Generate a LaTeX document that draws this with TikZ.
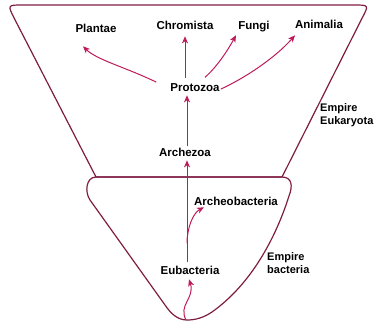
\documentclass[tikz,border=0pt]{standalone}
\usepackage{fontspec}
\setmainfont{Liberation Sans}
\usetikzlibrary{arrows.meta}
\definecolor{outl}{HTML}{7E1C42}
\definecolor{arr}{HTML}{BE1A5A}
\begin{document}
\begin{tikzpicture}[x=1pt,y=-1pt,
  lbl/.style={font=\fontsize{11.5}{13}\selectfont\bfseries, inner sep=1pt, anchor=base, text=black},
  side/.style={font=\fontsize{11}{13}\selectfont\bfseries, inner sep=0pt, anchor=north west, align=left, text=black},
  shapeline/.style={draw=outl, line width=1.2pt, line join=round},
  link/.style={draw=arr, line width=1pt, -{Stealth[length=7pt,width=6pt,inset=2pt]}}]
\useasboundingbox (0,0) rectangle (379,324);
% shapes
\draw[shapeline] (96,177) -- (14.4,18.6) .. controls (7.5,5) .. (22.5,5) -- (354,5) .. controls (369,5) .. (362,18.3) -- (282,177) -- cycle;
\draw[shapeline] (96,177) -- (282,177) .. controls (292,177) and (293,186) .. (289,196)
   .. controls (275,240) and (250,285) .. (212,312)
   .. controls (203,318) and (195,320) .. (187,320)
   .. controls (178,320) and (171,314) .. (165,305)
   -- (90,200) .. controls (84.5,192) and (86,177) .. (96,177) -- cycle;
\coordinate (bot) at (186,320);
% labels
\node[lbl] (plantae) at (96,32) {Plantae};
\node[lbl] (chrom) at (185,29) {Chromista};
\node[lbl] (fungi) at (254,29) {Fungi};
\node[lbl] (anim) at (319,28) {Animalia};
\node[lbl] (proto) at (195,91) {Protozoa};
\node[lbl] (archez) at (185,156) {Archezoa};
\node[lbl] (archeob) at (236,205) {Archeobacteria};
\node[lbl] (eubac) at (190,274) {Eubacteria};
\node[side] (euk) at (320,103) {Empire\\Eukaryota};
\node[side] (bac) at (267,252) {Empire\\bacteria};
% arrows
\draw[link] ([shift={(-13,-5)}]proto.west) .. controls (125,67) and (97,60) .. ([shift={(-13,13)}]plantae.south);
\draw[link] ([shift={(-10,-4)}]proto.north) -- ([shift={(0,6)}]chrom.south);
\draw[link] ([shift={(10,-4.6)}]proto.north) .. controls (218,66) and (229,48) .. ([shift={(-18,2.6)}]fungi.south);
\draw[link] ([shift={(0,2)}]proto.east) .. controls (245,78) and (275,58) .. ([shift={(-24,6)}]anim.south);
\draw[link] ([shift={(2,0)}]archez.north) -- ([shift={(-8,3)}]proto.south);
\draw[link] ([shift={(-3,-2)}]eubac.north) coordinate (eubtop) -- ([shift={(2,3)}]archez.south);
\coordinate (branch) at ([shift={(0,-19)}]eubtop);
\draw[link] (branch) .. controls (187,228) and (193,213) .. ([shift={(11,1)}]archeob.south west);
\draw[link] (bot) .. controls (178,305) and (195,298) .. ([shift={(-1,4)}]eubac.south);
\end{tikzpicture}
\end{document}
